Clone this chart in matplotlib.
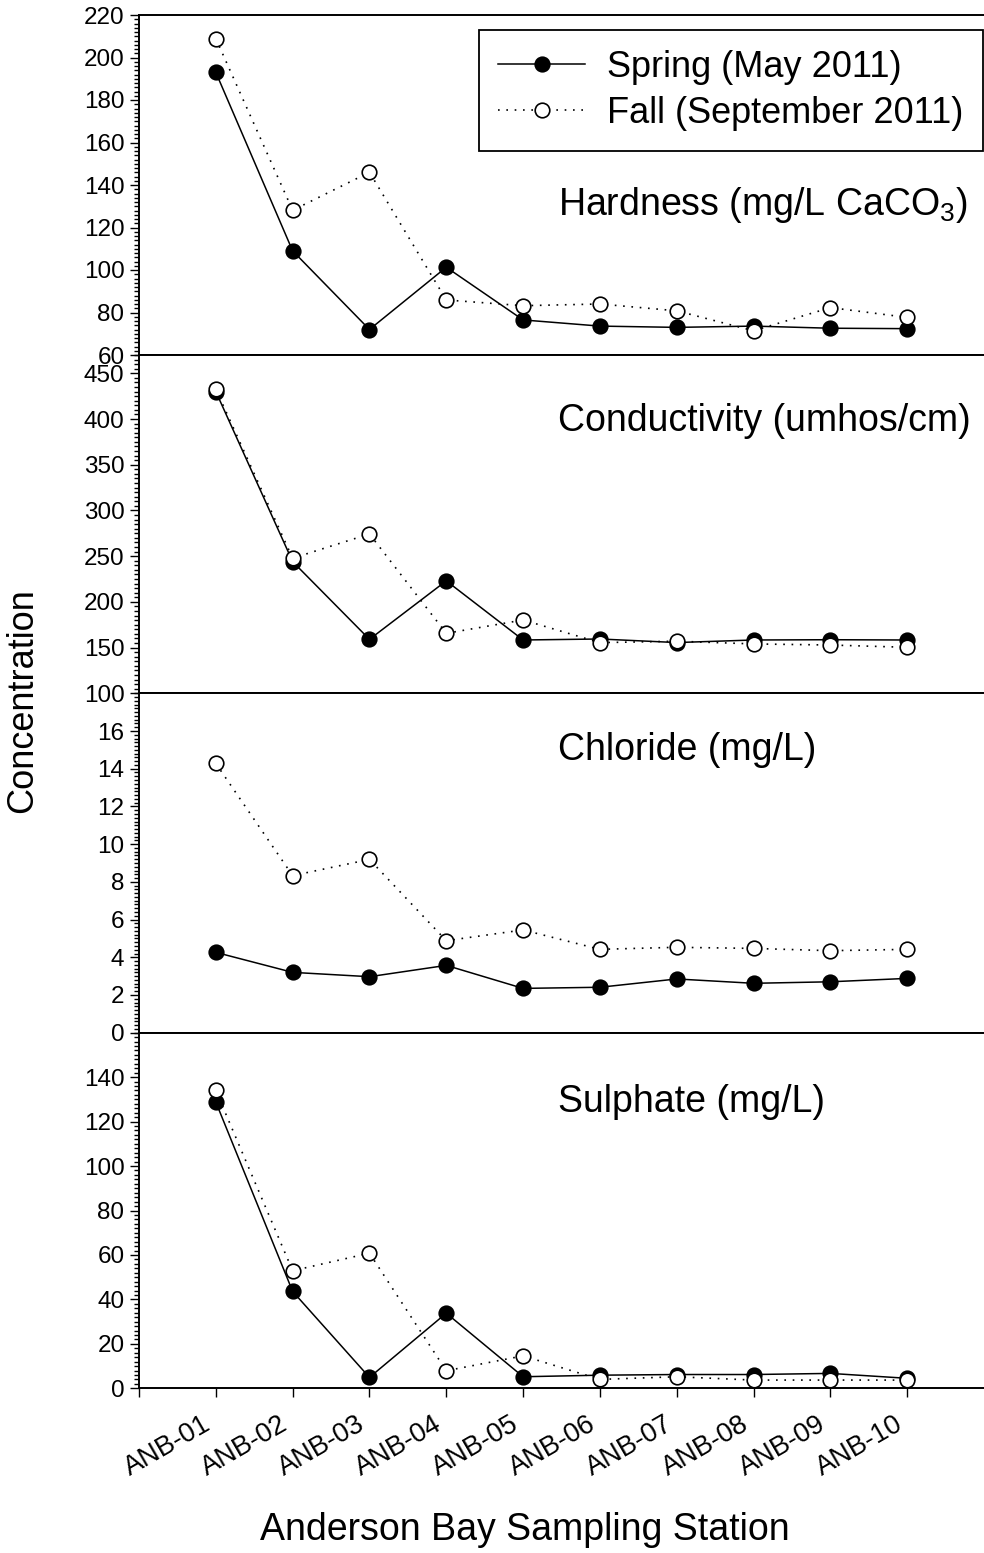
"""Anderson Bay water chemistry by sampling station, spring vs fall 2011."""

import matplotlib
matplotlib.use("Agg")
import matplotlib.pyplot as plt
from matplotlib.ticker import FixedLocator, MultipleLocator

plt.rcParams["font.family"] = ["Liberation Sans", "DejaVu Sans"]
plt.rcParams["mathtext.fontset"] = "custom"
plt.rcParams["mathtext.rm"] = "Liberation Sans"

stations = ["ANB-01", "ANB-02", "ANB-03", "ANB-04", "ANB-05",
            "ANB-06", "ANB-07", "ANB-08", "ANB-09", "ANB-10"]

hardness_spring = [193, 109, 72, 101.3, 76.5, 73.6, 73, 73.6, 72.6, 72.4]
hardness_fall = [208.9, 128.1, 146, 85.9, 83.2, 84, 80.8, 71.4, 82.3, 77.7]

conductivity_spring = [430, 244, 159, 223, 158.3, 159.4, 155.5, 158.3, 158.6, 158.3]
conductivity_fall = [432.6, 247.7, 274.3, 165.6, 180.2, 155.4, 157, 154, 152.8, 150.3]

chloride_spring = [4.26, 3.2, 2.97, 3.57, 2.35, 2.41, 2.85, 2.62, 2.7, 2.88]
chloride_fall = [14.28, 8.33, 9.19, 4.88, 5.45, 4.42, 4.53, 4.47, 4.35, 4.42]

sulphate_spring = [128.8, 43.6, 4.9, 33.8, 5.2, 5.9, 6.2, 6.2, 6.7, 4.5]
sulphate_fall = [134, 52.9, 60.8, 7.9, 14.6, 4.0, 5.2, 3.7, 3.7, 3.7]

panel_titles = [r"Hardness (mg/L CaCO$_\mathregular{3}$)",
                "Conductivity (umhos/cm)",
                "Chloride (mg/L)",
                "Sulphate (mg/L)"]
spring_series = [hardness_spring, conductivity_spring, chloride_spring, sulphate_spring]
fall_series = [hardness_fall, conductivity_fall, chloride_fall, sulphate_fall]
y_limits = [(60, 220), (100, 470), (0, 18), (0, 160)]
y_major = [range(60, 221, 20), range(100, 451, 50), range(0, 17, 2), range(0, 141, 20)]
y_minor = [2, 5, 0.2, 2]

W, H = 984, 1553
fig = plt.figure(figsize=(W / 100, H / 100), dpi=100)

# panel edges in pixels from the top of the figure
edges = [15, 355, 693.3, 1032.7, 1388.3]
left = 139 / W
x = list(range(1, len(stations) + 1))

axes = []
for i in range(4):
    bottom = 1 - edges[i + 1] / H
    height = (edges[i + 1] - edges[i]) / H
    ax = fig.add_axes([left, bottom, 1 - left, height])
    axes.append(ax)

    ax.plot(x, spring_series[i], color="black", linestyle="-", linewidth=1.1,
            marker="o", markersize=10.5, markerfacecolor="black",
            markeredgecolor="black", markeredgewidth=1.2,
            label="Spring (May 2011)", zorder=3, clip_on=False)
    ax.plot(x, fall_series[i], color="black", linestyle=(0, (1, 4)), linewidth=1.2,
            marker="o", markersize=10.5, markerfacecolor="white",
            markeredgecolor="black", markeredgewidth=1.2,
            label="Fall (September 2011)", zorder=4, clip_on=False)

    ax.set_xlim(0, 11)
    ax.set_ylim(*y_limits[i])
    ax.yaxis.set_major_locator(FixedLocator(list(y_major[i])))
    ax.yaxis.set_minor_locator(MultipleLocator(y_minor[i]))
    ax.tick_params(axis="y", which="major", direction="out", length=6.5,
                   width=1, labelsize=17.5, pad=4)
    ax.tick_params(axis="y", which="minor", direction="out", length=3.6, width=1)

    for side in ("top", "bottom", "left"):
        ax.spines[side].set_linewidth(1.4)
    ax.spines["right"].set_visible(False)

    if i < 3:
        ax.set_xticks([])
    else:
        ax.set_xticks(range(0, 11))
        ax.set_xticklabels([""] + stations, rotation=30, ha="right", va="top",
                           fontsize=19.5)
        ax.tick_params(axis="x", direction="out", length=6.5, width=1, pad=10)

title_y = [205, 421, 750, 1102]
for title, ty in zip(panel_titles, title_y):
    fig.text(558 / W, 1 - ty / H, title, fontsize=27, ha="left", va="center")

leg = axes[0].legend(loc="upper right", bbox_to_anchor=(983 / W, 1 - 30 / H),
                     bbox_transform=fig.transFigure, borderaxespad=0, fontsize=26,
                     frameon=True, fancybox=False, edgecolor="black", framealpha=1,
                     handlelength=2.4, handletextpad=0.6, labelspacing=0.3,
                     borderpad=0.55, markerscale=1.0)
leg.get_frame().set_linewidth(1.3)

fig.text(23 / W, 1 - 701 / H, "Concentration", rotation=90, fontsize=26,
         ha="center", va="center")
fig.text(525 / W, 1 - 1530 / H, "Anderson Bay Sampling Station", fontsize=27,
         ha="center", va="center")

fig.savefig("out.png", dpi=100)
plt.close(fig)
